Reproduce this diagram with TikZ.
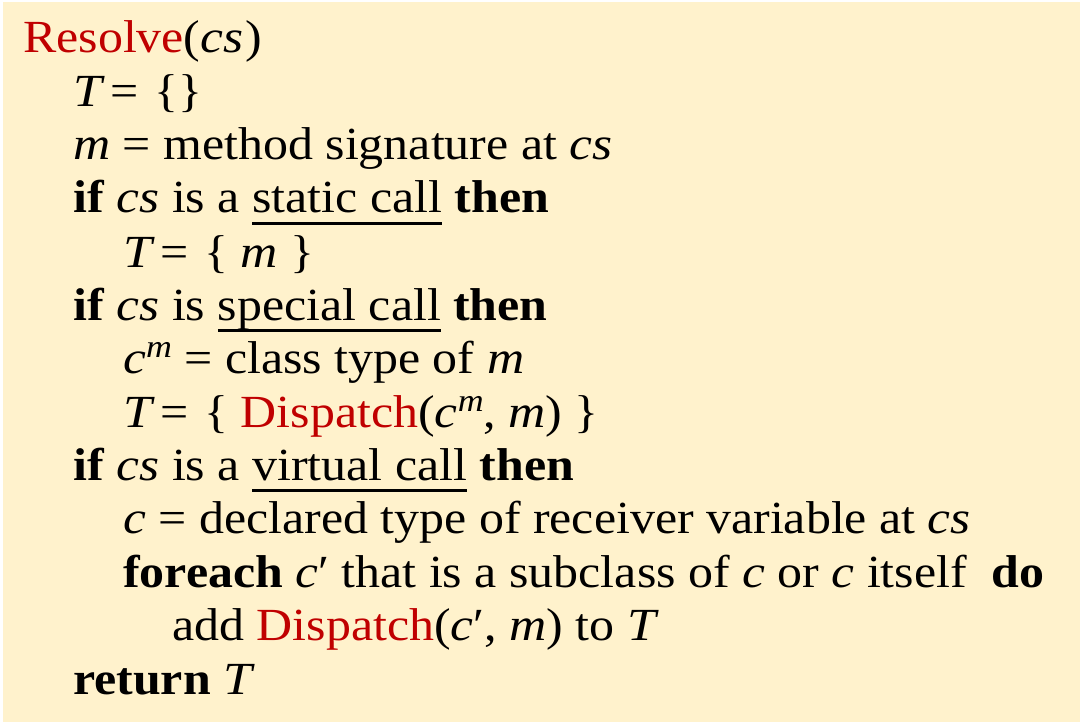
\documentclass[tikz,border=0pt]{standalone}
\usepackage{fontspec}
\setmainfont[FakeStretch=1.085]{Liberation Serif}
\newfontfamily\varfont[FakeStretch=1.12]{Liberation Serif Italic}
\definecolor{bgbeige}{HTML}{FFF2CC}
\definecolor{fnred}{HTML}{C00000}
\newcommand\vv[1]{{\varfont #1}}
\newcommand\fn[1]{\textcolor{fnred}{#1}}
\newcommand\kw[1]{\textbf{#1}}
\newcommand\ulx[1]{\setbox0\hbox{#1}\rlap{\rule[-12pt]{\wd0}{3pt}}\box0{}}
\newcommand\supm{\raisebox{16pt}{\fontsize{32}{32}\selectfont\varfont m}}
\newcommand\Teq{\vv{T}\kern9pt=\kern3pt\ }
\tikzset{
  codeline/.style={anchor=base west, inner sep=0pt, font=\fontsize{46}{53}\selectfont}
}
\begin{document}
\begin{tikzpicture}[x=1pt,y=-1pt]
\useasboundingbox (0,0) rectangle (1086,727);
\fill[bgbeige] (3,2) rectangle (1080,722);
\node[codeline] (l1)  at (23,53)  {\fn{Resolve}(\vv{cs}\kern2pt)};
\node[codeline] (l2)  at (73,107) {\Teq\{\}};
\node[codeline] (l3)  at (73,160) {\vv{m} = method signature at \vv{cs}};
\node[codeline] (l4)  at (73,213) {\kw{if} \vv{cs} is a \ulx{static call} \kw{then}};
\node[codeline] (l5)  at (123,267) {\Teq\{ \vv{m} \}};
\node[codeline] (l6)  at (73,320) {\kw{if} \vv{cs} is \ulx{special call} \kw{then}};
\node[codeline] (l7)  at (123,373) {\vv{c}\supm{} = class type of \vv{m}};
\node[codeline] (l8)  at (123,427) {\Teq\{ \fn{Dispatch}(\vv{c}\supm, \vv{m}) \}};
\node[codeline] (l9)  at (73,480) {\kw{if} \vv{cs} is a \ulx{virtual call} \kw{then}};
\node[codeline] (l10) at (123,533) {\vv{c} = declared type of receiver variable at \vv{cs}};
\node[codeline] (l11) at (123,587) {\kw{foreach} \vv{c}′ that is a subclass of \vv{c} or \vv{c} itself\ \ \kw{do}};
\node[codeline] (l12) at (172,640) {add \fn{Dispatch}(\vv{c}′, \vv{m}) to \vv{T}};
\node[codeline] (l13) at (73,694) {\kw{return} \vv{T}};
\end{tikzpicture}
\end{document}
